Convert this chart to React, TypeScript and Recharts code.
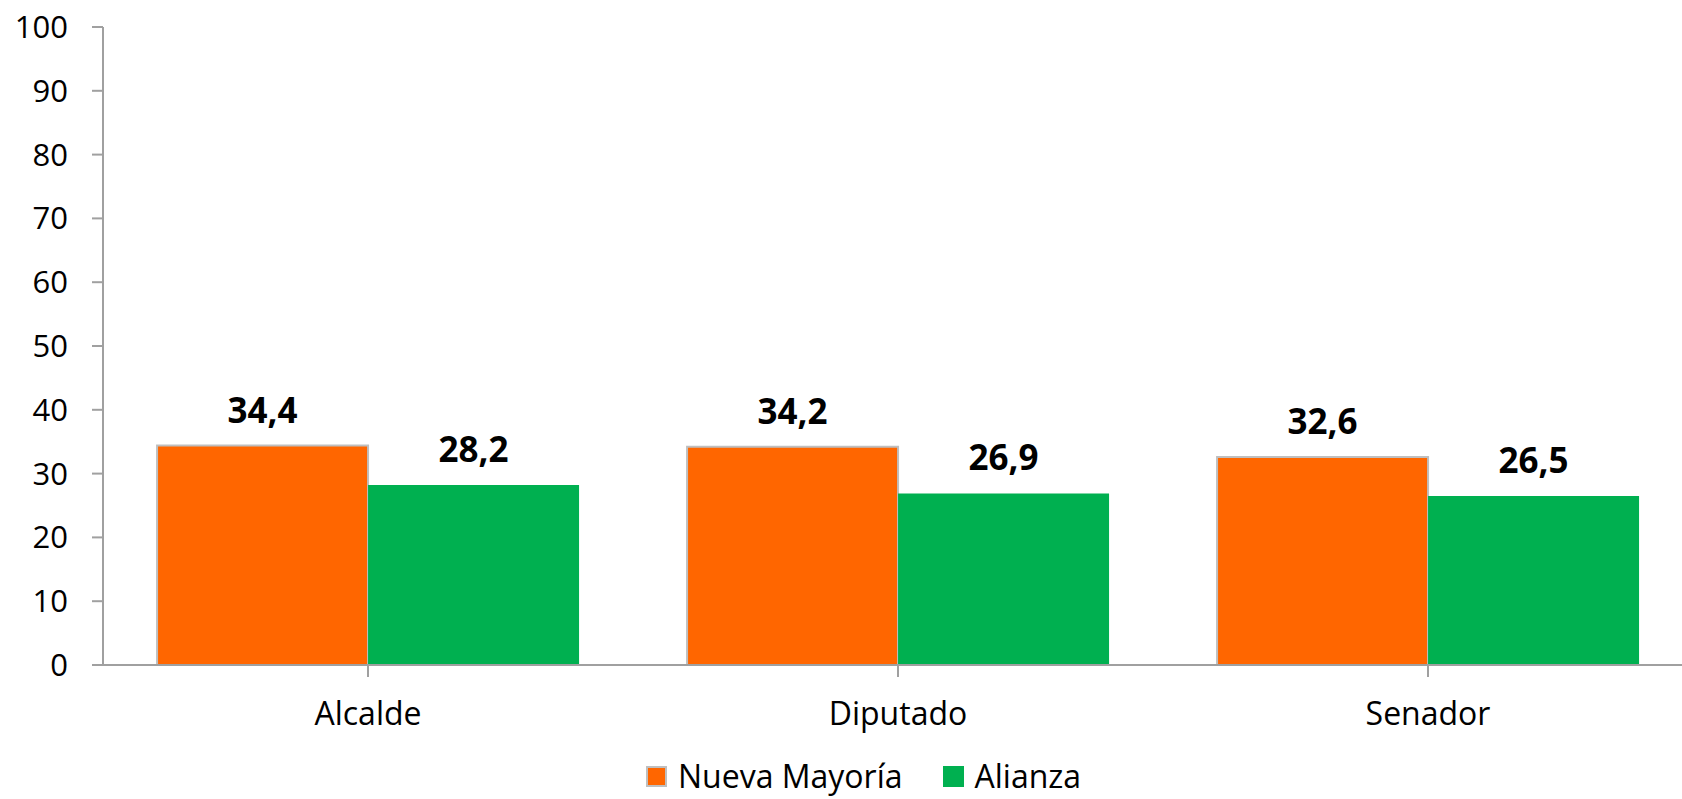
import { Bar, BarChart, LabelList, Legend, XAxis, YAxis } from "recharts";

const categories = ["Alcalde", "Diputado", "Senador"];
const nuevaMayoria = [34.4, 34.2, 32.6];
const alianza = [28.2, 26.9, 26.5];
const yTicks = [0, 10, 20, 30, 40, 50, 60, 70, 80, 90, 100];

const seriesInfo = [
  { key: "nm", name: "Nueva Mayoría", color: "#FF6600", border: "#BFBFBF" },
  { key: "al", name: "Alianza", color: "#00B050", border: "#00B050" },
];

const data = categories.map((c, i) => ({ name: c, nm: nuevaMayoria[i], al: alianza[i] }));

const FONT = "'Open Sans', sans-serif";
const AXIS = "#A0A0A0";

const fmt = (v: any) => String(v).replace(".", ",");

function LegendBox() {
  return (
    <div style={{ height: 56, display: "flex", alignItems: "flex-start", fontFamily: FONT, fontSize: 32, color: "#000" }}>
      <div style={{ marginLeft: 646, marginTop: 21, display: "flex", alignItems: "center", height: 24 }}>
        {seriesInfo.map((s, i) => (
          <div key={s.key} style={{ display: "flex", alignItems: "center", marginRight: i === 0 ? 40 : 0 }}>
            <span
              style={{
                width: 21,
                height: 21,
                boxSizing: "border-box",
                background: s.color,
                border: `2px solid ${s.border}`,
                marginRight: 11,
                display: "inline-block",
              }}
            />
            <span style={{ lineHeight: 1, whiteSpace: "nowrap" }}>{s.name}</span>
          </div>
        ))}
      </div>
    </div>
  );
}

export default function App() {
  return (
    <div style={{ position: "fixed", left: 0, top: 0, width: 1682, height: 799, overflow: "hidden", background: "#fff" }}>
      <BarChart
        width={1700}
        height={799}
        data={data}
        margin={{ top: 27, right: 7, left: 0, bottom: 0 }}
        barCategoryGap="10.2%"
        barGap={0}
      >
        <XAxis
          dataKey="name"
          height={78}
          tick={{ fill: "#000", fontSize: 32, fontFamily: FONT }}
          tickSize={12}
          tickMargin={25}
          axisLine={{ stroke: AXIS, strokeWidth: 2 }}
          tickLine={{ stroke: AXIS, strokeWidth: 2 }}
          interval={0}
        />
        <YAxis
          width={103}
          domain={[0, 100]}
          ticks={yTicks}
          tick={{ fill: "#000", fontSize: 31, fontFamily: FONT }}
          tickSize={11}
          tickMargin={24}
          axisLine={{ stroke: AXIS, strokeWidth: 2 }}
          tickLine={{ stroke: AXIS, strokeWidth: 2 }}
          interval={0}
        />
        <Legend verticalAlign="bottom" height={56} wrapperStyle={{ left: 0, width: 1700 }} content={() => <LegendBox />} />
        {seriesInfo.map((s) => (
          <Bar
            key={s.key}
            dataKey={s.key}
            name={s.name}
            fill={s.color}
            stroke={s.key === "nm" ? s.border : "none"}
            strokeWidth={2}
            isAnimationActive={false}
          >
            <LabelList
              dataKey={s.key}
              position="top"
              offset={23}
              formatter={fmt}
              style={{ fill: "#000", fontSize: 35, fontWeight: 700, fontFamily: FONT }}
            />
          </Bar>
        ))}
      </BarChart>
    </div>
  );
}
